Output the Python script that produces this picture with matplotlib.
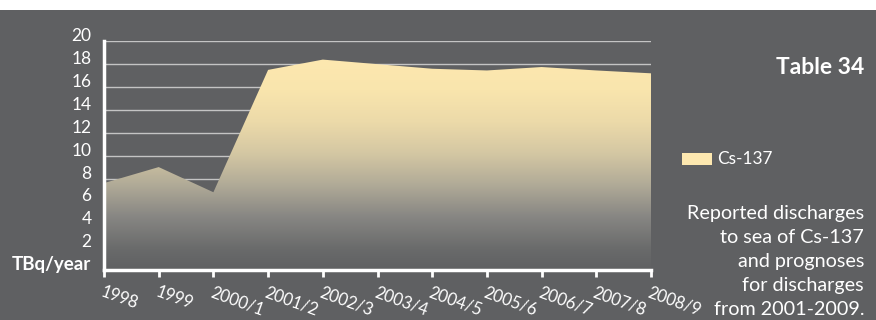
import numpy as np
import matplotlib
matplotlib.use("Agg")
import matplotlib.pyplot as plt
from matplotlib.colors import LinearSegmentedColormap
from matplotlib.patches import Rectangle

plt.rcParams['font.family'] = ['Lato', 'DejaVu Sans']

categories = ["1998", "1999", "2000/1", "2001/2", "2002/3", "2003/4",
              "2004/5", "2005/6", "2006/7", "2007/8", "2008/9"]
cs137 = [7.6, 9.0, 6.8, 17.5, 18.4, 18.0, 17.6, 17.45, 17.75, 17.45, 17.2]
yticks = [0, 2, 4, 6, 8, 10, 12, 14, 16, 18, 20]
ytick_labels = ["TBq/year", "2", "4", "6", "8", "10", "12", "14", "16", "18", "20"]
series_name = "Cs-137"
title = "Table 34"
description = ["Reported discharges", "to sea of Cs-137", "and prognoses",
               "for discharges", "from 2001-2009."]

BG = "#5f6062"
W, H = 876, 320
fig = plt.figure(figsize=(W / 100, H / 100), dpi=100, facecolor=BG)
fig.patches.append(Rectangle((0, 310 / H), 1, 10 / H, transform=fig.transFigure,
                             facecolor="white", edgecolor="none", zorder=0))

ax = fig.add_axes([104 / W, (H - 270) / H, (651 - 104) / W, (270 - 41.3) / H])
ax.set_facecolor(BG)
x = np.arange(len(categories))
ax.set_xlim(0, len(categories) - 1)
ax.set_ylim(0, 20)

# gridlines
for v in yticks[1:]:
    ax.axhline(v, color="#c4c4c4", lw=1.0, zorder=1)

# gradient fill clipped to area
poly = ax.fill_between(x, cs137, 0, color="none", lw=0, zorder=2)
cmap = LinearSegmentedColormap.from_list("g", [
    (0.0, "#5f6062"),
    (0.1, "#6a6b6b"),
    (0.25, "#878683"),
    (0.4, "#b0aa97"),
    (0.55, "#d4c7a3"),
    (0.7, "#ecdaa9"),
    (0.85, "#f9e5ad"),
    (1.0, "#fde8b0"),
])
grad = np.linspace(0, 1, 256).reshape(-1, 1)
im = ax.imshow(grad, extent=[0, len(categories) - 1, 0, 18.5], origin="lower",
               aspect="auto", cmap=cmap, zorder=3, interpolation="bilinear")
im.set_clip_path(poly.get_paths()[0], transform=ax.transData)

for s in ["top", "right"]:
    ax.spines[s].set_visible(False)
for s in ["left", "bottom"]:
    ax.spines[s].set_color("white")
    ax.spines[s].set_linewidth(2.5)
    ax.spines[s].set_zorder(5)

ax.set_yticks(yticks)
ax.set_yticklabels(ytick_labels)
ax.tick_params(axis="y", length=0, pad=9, labelcolor="white", labelsize=12.5)
for lab in ax.get_yticklabels():
    lab.set_va("baseline")
ax.get_yticklabels()[0].set_fontweight("bold")
ax.get_yticklabels()[0].set_fontsize(13.5)

ax.set_xticks(x)
ax.set_xticklabels(categories)
ax.tick_params(axis="x", length=5, width=2, color="white", direction="out",
               pad=5, labelcolor="white", labelsize=12)
for lab in ax.get_xticklabels():
    lab.set_rotation(-20)
    lab.set_ha("left")
    lab.set_va("top")
    lab.set_rotation_mode("anchor")

# right-hand texts
fig.text(864 / W, 1 - 74 / H, title, ha="right", va="baseline",
         color="white", fontsize=16.5, fontweight="bold")
fig.patches.append(Rectangle((682 / W, 1 - 165 / H), 30 / W, 12 / H,
                             transform=fig.transFigure, facecolor="#fde8b0",
                             edgecolor="none"))
fig.text(717 / W, 1 - 159 / H, series_name, ha="left", va="center",
         color="white", fontsize=12.4)
for i, line in enumerate(description):
    fig.text(864 / W, 1 - (219.5 + i * 23.9) / H, line, ha="right",
             va="baseline", color="white", fontsize=14.2)

fig.savefig("out.png", dpi=100, facecolor=fig.get_facecolor())
